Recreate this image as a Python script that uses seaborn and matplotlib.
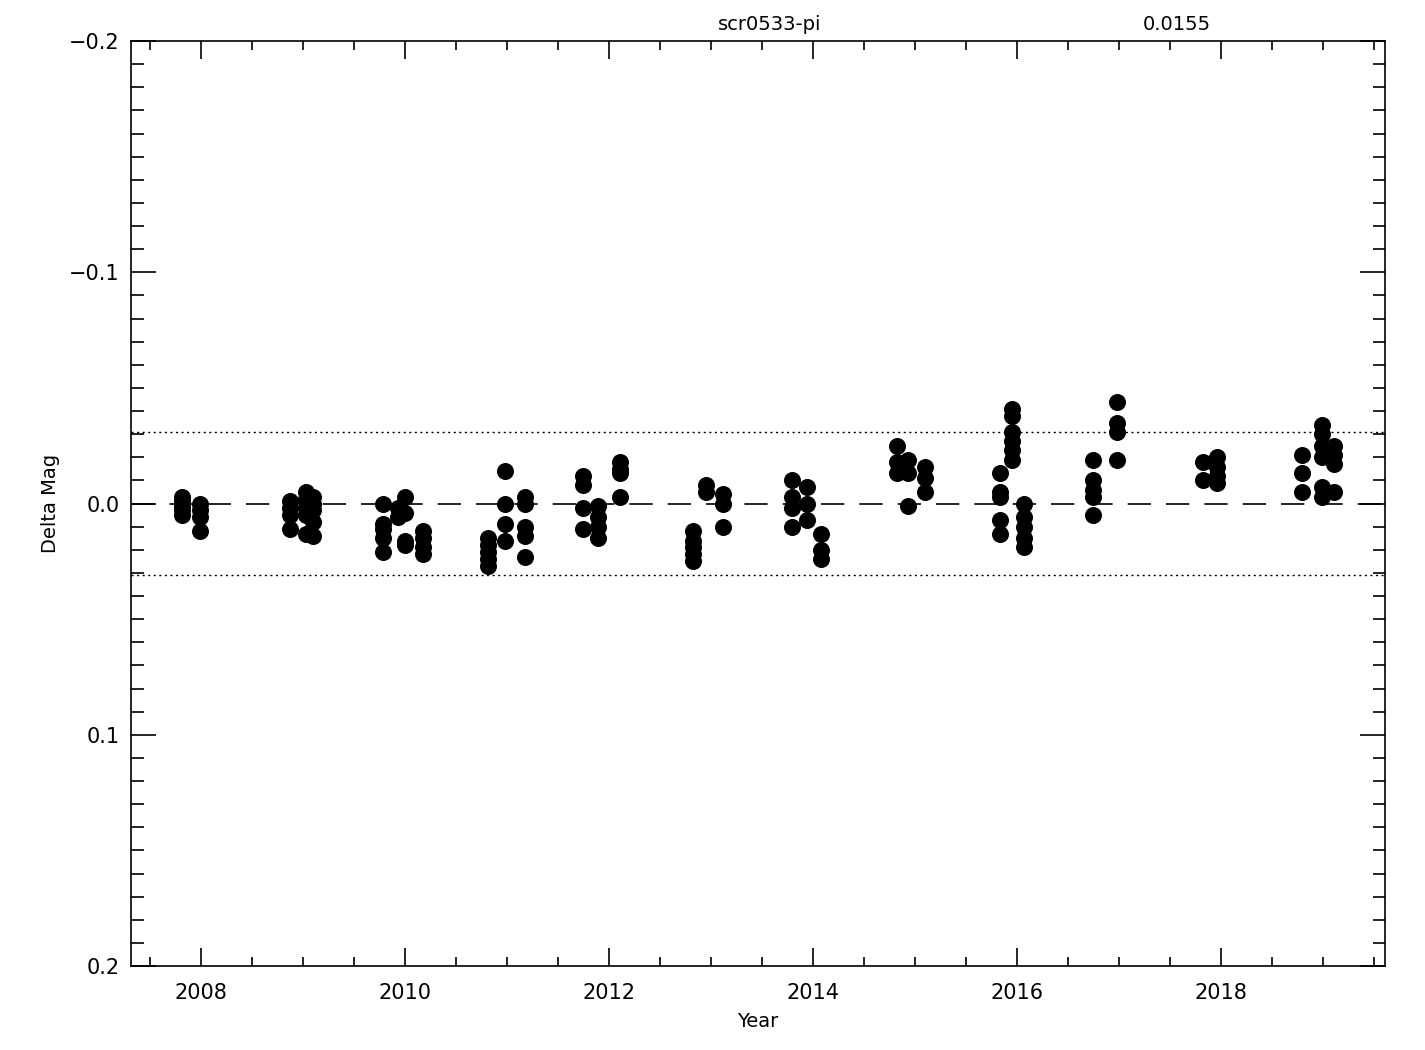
import numpy as np
import pandas as pd
import seaborn as sns
import matplotlib.pyplot as plt
from matplotlib.ticker import MultipleLocator

# observation epochs (decimal year) and the delta mags measured at each
epoch_years = [2007.81, 2007.99, 2008.87, 2009.03, 2009.10, 2009.78, 2009.93,
               2010.00, 2010.17, 2010.81, 2010.98, 2011.17, 2011.74, 2011.89,
               2012.11, 2012.82, 2012.95, 2013.12, 2013.79, 2013.94, 2014.08,
               2014.82, 2014.93, 2015.10, 2015.83, 2015.95, 2016.07, 2016.75,
               2016.98, 2017.82, 2017.96, 2018.80, 2018.99, 2019.11]

epoch_mags = [
    [-0.003, -0.001, 0.001, 0.003, 0.005],
    [0.000, 0.003, 0.006, 0.012],
    [-0.001, 0.002, 0.005, 0.011],
    [-0.005, -0.002, 0.002, 0.005, 0.013],
    [-0.003, 0.000, 0.003, 0.008, 0.014],
    [0.000, 0.009, 0.011, 0.015, 0.021],
    [0.002, 0.006],
    [-0.003, 0.004, 0.016, 0.018],
    [0.012, 0.015, 0.019, 0.022],
    [0.015, 0.018, 0.021, 0.024, 0.027],
    [-0.014, 0.000, 0.009, 0.016],
    [-0.003, 0.000, 0.010, 0.014, 0.023],
    [-0.012, -0.008, 0.002, 0.011],
    [0.001, 0.006, 0.010, 0.015],
    [-0.018, -0.015, -0.013, -0.003],
    [0.012, 0.016, 0.019, 0.022, 0.025],
    [-0.008, -0.005],
    [-0.004, 0.000, 0.010],
    [-0.010, -0.003, 0.002, 0.010],
    [-0.007, 0.000, 0.007],
    [0.013, 0.020, 0.024],
    [-0.025, -0.018, -0.013],
    [-0.019, -0.013, 0.001],
    [-0.016, -0.011, -0.005],
    [-0.013, -0.005, -0.003, 0.007, 0.013],
    [-0.041, -0.038, -0.031, -0.027, -0.023, -0.019],
    [0.000, 0.006, 0.010, 0.015, 0.019],
    [-0.019, -0.010, -0.006, -0.003, 0.005],
    [-0.044, -0.035, -0.031, -0.019],
    [-0.018, -0.010],
    [-0.020, -0.016, -0.012, -0.009],
    [-0.021, -0.013, -0.005],
    [-0.034, -0.030, -0.025, -0.020, -0.007, -0.003],
    [-0.025, -0.021, -0.017, -0.005],
]

star_name = "scr0533-pi"
rms = 0.0155

rows = []
for yr, mags in zip(epoch_years, epoch_mags):
    for m in mags:
        rows.append({"Year": yr, "dmag": m})
df = pd.DataFrame(rows)

sns.set_style("ticks")
plt.rcParams["font.family"] = ["DejaVu Sans"]
plt.rcParams["text.color"] = "black"

fig = plt.figure(figsize=(14.25, 10.5), dpi=100)
ax = fig.add_axes([131/1425, 1-966/1050, (1385-131)/1425, (966-41)/1050])

sns.scatterplot(data=df, x="Year", y="dmag", color="black", s=150,
                linewidth=0, ax=ax, zorder=3)

# zero line and +/- 2 sigma band
ax.axhline(0.0, color="black", lw=1.2, ls=(0, (14, 9)))
ax.axhline(2*rms, color="black", lw=1.0, ls=(0, (1.5, 2.5)))
ax.axhline(-2*rms, color="black", lw=1.0, ls=(0, (1.5, 2.5)))

ax.set_xlim(2007.31, 2019.61)
ax.set_ylim(0.2, -0.2)
ax.xaxis.set_major_locator(MultipleLocator(2))
ax.xaxis.set_minor_locator(MultipleLocator(0.5))
ax.yaxis.set_major_locator(MultipleLocator(0.1))
ax.yaxis.set_minor_locator(MultipleLocator(0.01))

ax.tick_params(which="both", direction="in", top=True, right=True,
               width=1.2, labelsize=15, colors="black")
ax.tick_params(axis="x", which="major", length=13, pad=12)
ax.tick_params(axis="x", which="minor", length=6.5)
ax.tick_params(axis="y", which="major", length=18, pad=8)
ax.tick_params(axis="y", which="minor", length=9)
for sp in ax.spines.values():
    sp.set_linewidth(1.2)
    sp.set_color("black")

ax.set_xlabel("Year", fontsize=14, labelpad=7, color="black")
ax.set_ylabel("Delta Mag", fontsize=14, labelpad=7, color="black")

fig.text(770/1425, 1-25/1050, star_name, ha="center", va="center",
         fontsize=14, color="black")
fig.text(1177/1425, 1-25/1050, f"{rms:.4f}", ha="center", va="center",
         fontsize=14, color="black")

fig.savefig("out.png", dpi=100, facecolor="white")
